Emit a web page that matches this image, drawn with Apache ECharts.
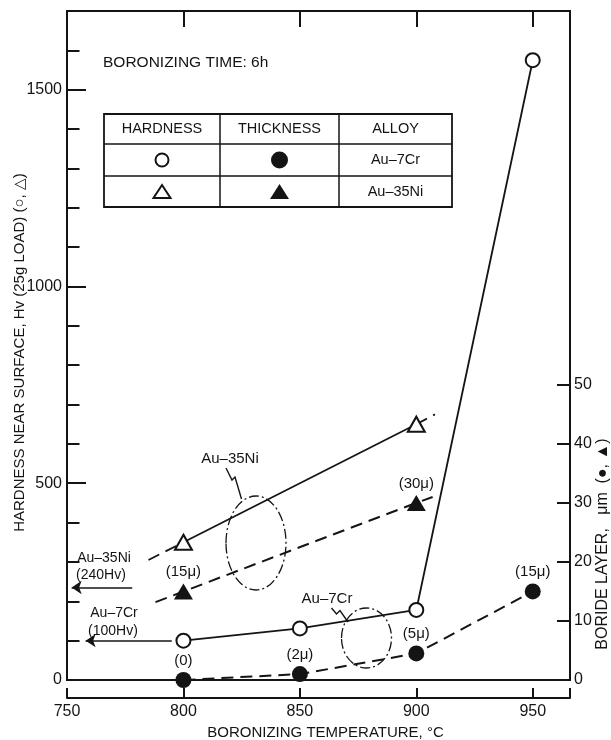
<!DOCTYPE html>
<html>
<head>
<meta charset="utf-8">
<title>Boronizing temperature</title>
<script src="https://cdn.jsdelivr.net/npm/echarts@6/dist/echarts.min.js"></script>
<style>
html, body { margin: 0; padding: 0; background: #fff; }
#main { width: 611px; height: 740px; }
</style>
</head>
<body>
<div id="main"></div>
<script>
// data
var temps = [800, 850, 900, 950];
var hardCr = [100, 131, 178, 1575];
var thickCr = [0, 1, 4.5, 15];
var thickCrLabels = ['(0)', '(2μ)', '(5μ)', '(15μ)'];

var tempsNi = [800, 900];
var hardNi = [350, 650];
var thickNi = [15, 30];
var thickNiLabels = ['(15μ)', '(30μ)'];

// dashed extrapolated ends of the Au-35Ni lines
var hardNiLeft = [785, 305];
var hardNiRight = [908, 675];
var thickNiLeft = [788, 13.2];
var thickNiRight = [907, 31];

// base metal hardness arrows [from temp, to temp, Hv]
var baseNi = [778, 752, 235];
var baseCr = [795, 758, 100];

var xTicks = [750, 800, 850, 900, 950];
var yMajor = [0, 500, 1000, 1500];
var yMinor = [100, 200, 300, 400, 600, 700, 800, 900, 1100, 1200, 1300, 1400, 1600];
var rTicks = [0, 10, 20, 30, 40, 50];

var INK = '#141414';
var FONT = "'Liberation Sans', Arial, sans-serif";

var dom = document.getElementById('main');
var myChart = echarts.init(dom);

function pairs(xs, ys) {
    var out = [];
    for (var i = 0; i < xs.length; i++) out.push([xs[i], ys[i]]);
    return out;
}

function labelled(xs, ys, lbls) {
    var out = [];
    for (var i = 0; i < xs.length; i++) {
        out.push({ value: [xs[i], ys[i]], label: { show: true, formatter: lbls[i] } });
    }
    return out;
}

function plain(v) { return String(v); }

var hardNiDashed = [hardNiLeft, [tempsNi[0], hardNi[0]], [850, '-'], [tempsNi[1], hardNi[1]], hardNiRight];
var thickNiData = [{ value: thickNiLeft, symbol: 'none' }]
    .concat(labelled(tempsNi, thickNi, thickNiLabels))
    .concat([{ value: thickNiRight, symbol: 'none' }]);

var arrowStyle = { color: INK, width: 1.6, type: 'solid' };

function txt(x, y, s, size, align) {
    return {
        type: 'text', x: x, y: y, silent: true, z: 10,
        style: { text: s, font: (size || 15) + 'px ' + FONT, fill: INK,
                 textAlign: align || 'center', textVerticalAlign: 'middle' }
    };
}

var graphics = [
    txt(103, 63, 'BORONIZING TIME: 6h', 15.5, 'left'),
    // table
    { type: 'rect', shape: { x: 104, y: 114, width: 348, height: 93 },
      style: { fill: 'none', stroke: INK, lineWidth: 1.8 } },
    { type: 'line', shape: { x1: 104, y1: 144, x2: 452, y2: 144 }, style: { stroke: INK, lineWidth: 1.5 } },
    { type: 'line', shape: { x1: 104, y1: 176, x2: 452, y2: 176 }, style: { stroke: INK, lineWidth: 1.5 } },
    { type: 'line', shape: { x1: 220, y1: 114, x2: 220, y2: 207 }, style: { stroke: INK, lineWidth: 1.5 } },
    { type: 'line', shape: { x1: 339, y1: 114, x2: 339, y2: 207 }, style: { stroke: INK, lineWidth: 1.5 } },
    txt(162, 129, 'HARDNESS', 14.5),
    txt(279.5, 129, 'THICKNESS', 14.5),
    txt(395.5, 129, 'ALLOY', 14.5),
    { type: 'circle', shape: { cx: 162, cy: 160, r: 6.5 }, style: { fill: '#fff', stroke: INK, lineWidth: 2 } },
    { type: 'circle', shape: { cx: 279.5, cy: 160, r: 8.5 }, style: { fill: INK } },
    { type: 'polygon', shape: { points: [[153.5, 198], [170.5, 198], [162, 185]] },
      style: { fill: '#fff', stroke: INK, lineWidth: 2 } },
    { type: 'polygon', shape: { points: [[270, 199], [289, 199], [279.5, 184]] }, style: { fill: INK } },
    txt(395.5, 160, 'Au–7Cr', 14.5),
    txt(395.5, 192, 'Au–35Ni', 14.5),
    // callouts
    txt(230, 459, 'Au–35Ni', 15),
    { type: 'polyline', shape: { points: [[226, 468], [232, 480], [235, 477], [241.5, 499]] },
      style: { stroke: INK, lineWidth: 1.4, fill: 'none' } },
    { type: 'ellipse', shape: { cx: 256, cy: 543, rx: 30, ry: 47 },
      style: { fill: 'none', stroke: INK, lineWidth: 1.3, lineDash: [10, 3, 2, 3] } },
    txt(327, 599, 'Au–7Cr', 15),
    { type: 'polyline', shape: { points: [[331.5, 608], [336.5, 614], [340, 610.5], [348, 622]] },
      style: { stroke: INK, lineWidth: 1.4, fill: 'none' } },
    { type: 'ellipse', shape: { cx: 366.5, cy: 638, rx: 25, ry: 30 },
      style: { fill: 'none', stroke: INK, lineWidth: 1.3, lineDash: [10, 3, 2, 3] } },
    txt(104, 558, 'Au–35Ni', 14),
    txt(101, 575, '(240Hv)', 14),
    txt(114, 613, 'Au–7Cr', 14),
    txt(113, 631, '(100Hv)', 14),
    // right axis title
    { type: 'text', x: 603, y: 544, rotation: Math.PI / 2, silent: true,
      style: { text: 'BORIDE LAYER,   μm  (●, ▲)', font: '16px ' + FONT, fill: INK,
               textAlign: 'center', textVerticalAlign: 'middle' } }
];

var option = {
    backgroundColor: '#fff',
    animation: false,
    textStyle: { fontFamily: FONT, color: INK },
    grid: {
        left: 67, right: 41, top: 11, bottom: 60,
        outerBoundsMode: 'none', containLabel: false,
        show: true, borderColor: INK, borderWidth: 2, backgroundColor: 'transparent'
    },
    xAxis: [{
        type: 'value', min: 750, max: 966, position: 'bottom', offset: 18,
        name: 'BORONIZING TEMPERATURE, °C', nameLocation: 'middle', nameGap: 25,
        nameTextStyle: { fontSize: 15, color: INK, padding: [0, 0, 0, 14] },
        axisLine: { show: true, onZero: false, lineStyle: { color: INK, width: 2 } },
        axisTick: { show: true, inside: true, length: 10, lineStyle: { color: INK, width: 2 },
                    customValues: xTicks.concat([966]) },
        axisLabel: { fontSize: 16, color: INK, margin: 6, customValues: xTicks, formatter: plain },
        splitLine: { show: false }
    }, {
        type: 'value', min: 750, max: 966, position: 'top',
        axisLine: { show: false, onZero: false },
        axisTick: { show: true, inside: true, length: 16, lineStyle: { color: INK, width: 2 },
                    customValues: [800, 850, 900, 950] },
        axisLabel: { show: false },
        splitLine: { show: false }
    }],
    yAxis: [{
        type: 'value', min: 0, max: 1700, position: 'left',
        name: 'HARDNESS NEAR SURFACE, Hv (25g LOAD) (○, △)', nameLocation: 'middle', nameGap: 40,
        nameMoveOverlap: false,
        nameTextStyle: { fontSize: 15, color: INK, padding: [0, 14, 0, 0] },
        axisLine: { show: false, onZero: false },
        axisTick: { show: true, inside: true, length: 19, lineStyle: { color: INK, width: 2 },
                    customValues: yMajor },
        axisLabel: { fontSize: 16, color: INK, margin: 5, customValues: yMajor, formatter: plain },
        splitLine: { show: false }
    }, {
        type: 'value', min: 0, max: 1700, position: 'left',
        axisLine: { show: false, onZero: false },
        axisTick: { show: true, inside: true, length: 12.5, lineStyle: { color: INK, width: 2 },
                    customValues: yMinor },
        axisLabel: { show: false },
        splitLine: { show: false }
    }, {
        type: 'value', min: 0, max: 1700 / 15, position: 'right',
        axisLine: { show: false, onZero: false },
        axisTick: { show: true, inside: true, length: 13, lineStyle: { color: INK, width: 2 },
                    customValues: rTicks },
        axisLabel: { fontSize: 16, color: INK, margin: 4, customValues: rTicks, formatter: plain },
        splitLine: { show: false }
    }],
    series: [{
        name: 'Au-35Ni hardness ext', type: 'line', yAxisIndex: 0,
        data: hardNiDashed, symbol: 'none', connectNulls: false,
        lineStyle: { color: INK, width: 1.8, type: [12, 7] }, z: 2
    }, {
        name: 'Au-35Ni thickness', type: 'line', yAxisIndex: 2,
        data: thickNiData, symbol: 'triangle', symbolSize: [19, 16],
        itemStyle: { color: INK },
        lineStyle: { color: INK, width: 2, type: [12, 7] },
        label: { position: 'top', distance: 4, fontSize: 15, color: INK },
        markLine: {
            silent: true, symbol: ['none', 'arrow'], symbolSize: 10,
            label: { show: false }, lineStyle: arrowStyle,
            data: [[{ coord: [baseNi[0], baseNi[2] / 15] }, { coord: [baseNi[1], baseNi[2] / 15] }]]
        }, z: 3
    }, {
        name: 'Au-7Cr thickness', type: 'line', yAxisIndex: 2,
        data: labelled(temps, thickCr, thickCrLabels), symbol: 'circle', symbolSize: 16,
        itemStyle: { color: INK },
        lineStyle: { color: INK, width: 2, type: [12, 7] },
        label: { position: 'top', distance: 4, fontSize: 15, color: INK }, z: 3
    }, {
        name: 'Au-35Ni hardness', type: 'line', yAxisIndex: 0,
        data: pairs(tempsNi, hardNi), symbol: 'triangle', symbolSize: [17, 15],
        itemStyle: { color: '#fff', borderColor: INK, borderWidth: 2 },
        lineStyle: { color: INK, width: 1.8 }, z: 4
    }, {
        name: 'Au-7Cr hardness', type: 'line', yAxisIndex: 0,
        data: pairs(temps, hardCr), symbol: 'circle', symbolSize: 14,
        itemStyle: { color: '#fff', borderColor: INK, borderWidth: 2 },
        lineStyle: { color: INK, width: 1.8 },
        markLine: {
            silent: true, symbol: ['none', 'arrow'], symbolSize: 10,
            label: { show: false }, lineStyle: arrowStyle,
            data: [[{ coord: [baseCr[0], baseCr[2]] }, { coord: [baseCr[1], baseCr[2]] }]]
        }, z: 4
    }],
    graphic: graphics
};

if (option && typeof option === "object") {
    myChart.setOption(option, true);
}

window.addEventListener("resize", function() {
    myChart.resize();
});
</script>
</body>
</html>
